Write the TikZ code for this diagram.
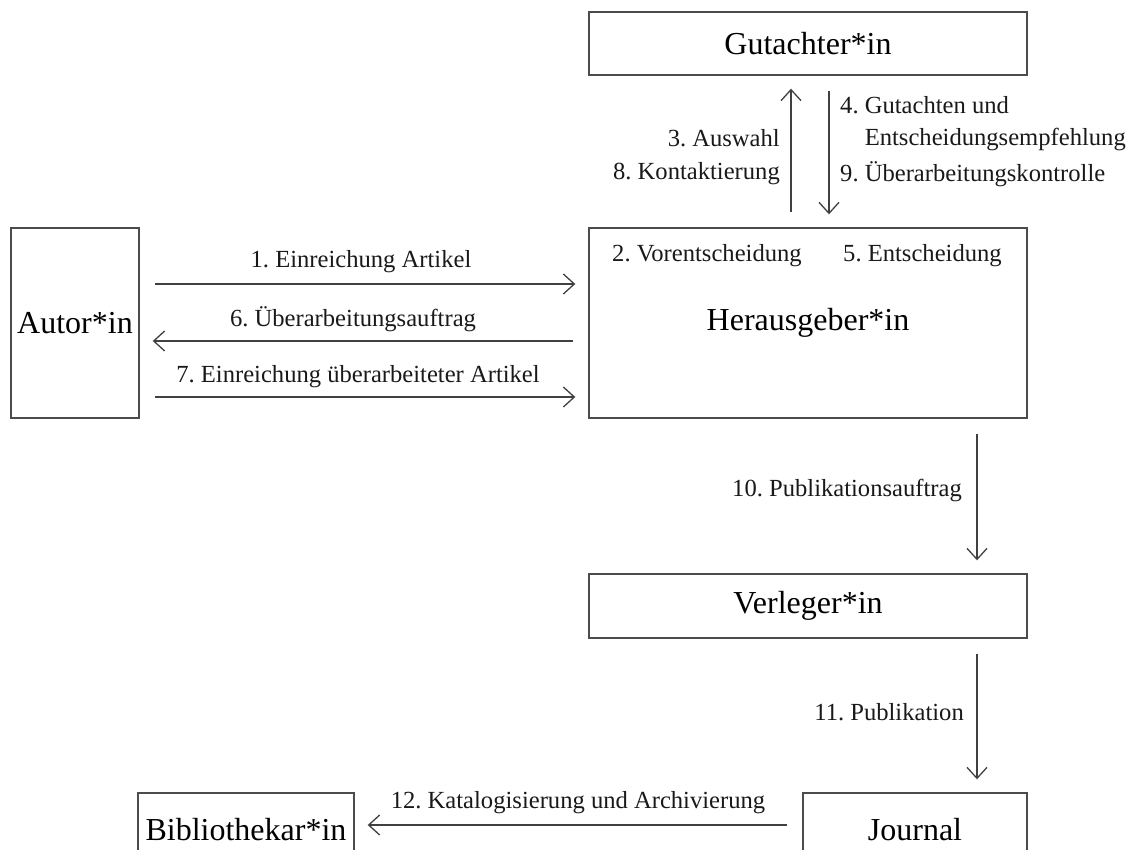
\documentclass[tikz,border=0pt]{standalone}
\usepackage{fontspec}
\setmainfont{Liberation Serif}
\usetikzlibrary{arrows.meta,positioning}
\frenchspacing

\tikzset{
  box/.style={draw=black!70, line width=1.4pt, minimum width=438pt, inner sep=0pt,
    font=\fontsize{32}{38}\selectfont},
  lbl/.style={inner sep=0pt, text=black!90, font=\fontsize{24.6}{32}\selectfont},
  flow/.style={-{Straight Barb[length=11pt,width=20pt]}, draw=black!75, line width=1.3pt,
    shorten >=13pt, shorten <=15pt}
}

\begin{document}
\begin{tikzpicture}[x=1pt,y=-1pt]
\useasboundingbox (0,0) rectangle (1140,850);
\clip (0,0) rectangle (1140,850);
% boxes
\node[box,minimum height=63pt] (gut) at (808,43.5) {Gutachter*in};
\node[box,minimum width=128pt,minimum height=190pt] (autor) at (75,323) {Autor*in};
\node[box,minimum height=190pt] (her) at (808,323) {Herausgeber*in};
\node[box,minimum height=64pt] (verl) at (808,606) {Verleger*in};
\node[box,minimum width=216pt,minimum height=74pt] (bib) at (246,830) {Bibliothekar*in};
\node[box,minimum width=224pt,minimum height=74pt] (jour) at (915,830) {Journal};
% arrows
\draw[flow] (autor.east |- 0,284) -- (her.west |- 0,284);
\draw[flow] (her.west |- 0,341) -- (autor.east |- 0,341);
\draw[flow] (autor.east |- 0,397) -- (her.west |- 0,397);
\draw[flow] (her.north -| 791,0) -- (gut.south -| 791,0);
\draw[flow] (gut.south -| 829,0) -- (her.north -| 829,0);
\draw[flow] (her.south -| 977,0) -- (verl.north -| 977,0);
\draw[flow] (verl.south -| 977,0) -- (jour.north -| 977,0);
\draw[flow] (jour.west |- 0,825) -- (bib.east |- 0,825);
% labels
\node[lbl] (l1) at (361,262) {1. Einreichung Artikel};
\node[lbl] (l6) at (353,319) {6. Überarbeitungsauftrag};
\node[lbl] (l7) at (358,377) {7. Einreichung überarbeiteter Artikel};
\node[lbl,anchor=west] (l2) at (612,256) {2. Vorentscheidung};
\node[lbl,anchor=west] (l5) at (843,256) {5. Entscheidung};
\node[lbl,anchor=east] (l3) at (780,138) {3. Auswahl};
\node[lbl,anchor=east] (l8) at (780,174) {8. Kontaktierung};
\node[lbl,anchor=west,align=left] (l4) at (840,124) {4. Gutachten und\\\hphantom{4. }Entscheidungsempfehlung};
\node[lbl,anchor=west] (l9) at (840,174) {9. Überarbeitungskontrolle};
\node[lbl,anchor=east] (l10) at (962,490) {10. Publikationsauftrag};
\node[lbl,anchor=east] (l11) at (964,712) {11. Publikation};
\node[lbl] (l12) at (578,803) {12. Katalogisierung und Archivierung};
\end{tikzpicture}
\end{document}
